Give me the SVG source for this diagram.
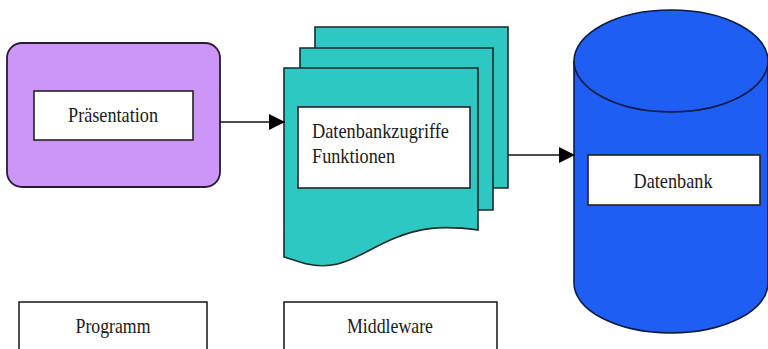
<svg xmlns="http://www.w3.org/2000/svg" width="768" height="349" viewBox="0 0 768 349">
<defs>
<style>
text{font-family:"Liberation Serif","DejaVu Serif","Times New Roman",serif;}
.lbl{font-size:21px;fill:#1a1a1a;}
.box{fill:#fff;stroke:#222;stroke-width:1.6;}
.doc{fill:#2ec8c4;stroke:#1a2a2a;stroke-width:1.6;}
.conn{stroke:#111;stroke-width:1.5;fill:none;}
</style>
<marker id="ah" markerWidth="16" markerHeight="16" refX="16" refY="8" orient="auto" markerUnits="userSpaceOnUse">
<path d="M0,0 L16,8 L0,16 Z" fill="#000"/>
</marker>
</defs>
<rect width="768" height="349" fill="#fff"/>
<g id="programm-node">
<rect x="7" y="43" width="213" height="144" rx="15" fill="#cc95f8" stroke="#2a1a33" stroke-width="1.8"/>
<rect class="box" x="34" y="91" width="159" height="49"/>
<text class="lbl" x="113" y="122" text-anchor="middle" textLength="90" lengthAdjust="spacingAndGlyphs">Präsentation</text>
</g>
<g id="middleware-node">
<path class="doc" d="M315,27 H508 V188 H315 Z"/>
<path class="doc" d="M300,48 H493 V210 H300 Z"/>
<path class="doc" d="M284,68 H478 V230 C440,225 420,228 395,238 C360,252 340,275 300,262 L284,257 Z"/>
<rect class="box" x="298" y="107" width="172" height="81"/>
<text class="lbl" x="312" y="138" textLength="137" lengthAdjust="spacingAndGlyphs">Datenbankzugriffe</text>
<text class="lbl" x="312" y="163" textLength="83" lengthAdjust="spacingAndGlyphs">Funktionen</text>
</g>
<g id="datenbank-node">
<path d="M574,61 V283 A97,50 0 0 0 768,283 V61" fill="#1f5ef4" stroke="#0a1a40" stroke-width="1.6"/>
<ellipse cx="671" cy="61" rx="97" ry="51" fill="#1f5ef4" stroke="#0a1a40" stroke-width="1.6"/>
<rect class="box" x="588" y="155" width="172" height="50"/>
<text class="lbl" x="673" y="188" text-anchor="middle" textLength="79" lengthAdjust="spacingAndGlyphs">Datenbank</text>
</g>
<g id="label-programm">
<rect class="box" x="19" y="302" width="188" height="60"/>
<text class="lbl" x="113" y="333" text-anchor="middle" textLength="75" lengthAdjust="spacingAndGlyphs">Programm</text>
</g>
<g id="label-middleware">
<rect class="box" x="284" y="302" width="213" height="60"/>
<text class="lbl" x="390" y="333" text-anchor="middle" textLength="86" lengthAdjust="spacingAndGlyphs">Middleware</text>
</g>
<g id="connectors">
<line class="conn" x1="220" y1="122" x2="285" y2="122" marker-end="url(#ah)"/>
<line class="conn" x1="508" y1="155" x2="575" y2="155" marker-end="url(#ah)"/>
</g>
</svg>
